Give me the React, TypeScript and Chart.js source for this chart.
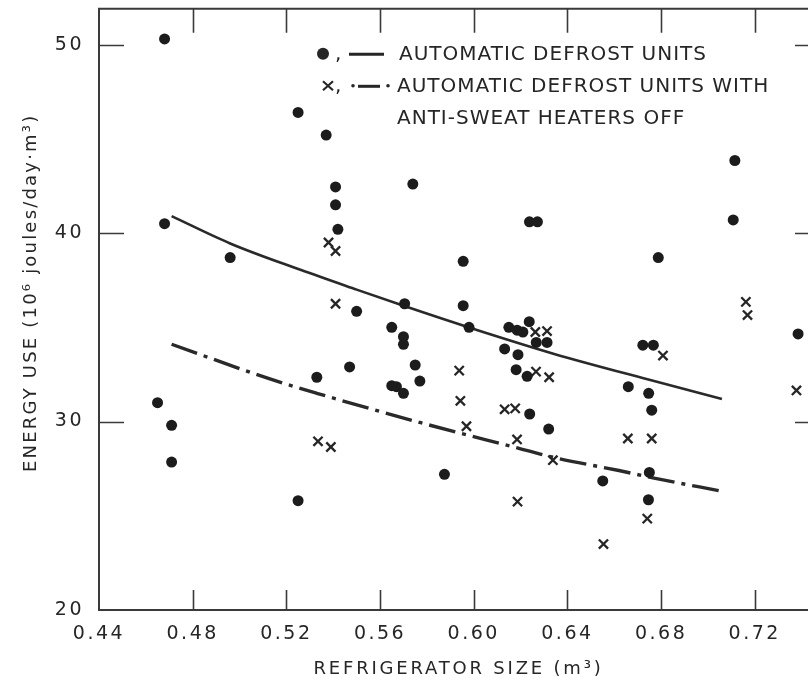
import { useEffect, useRef } from 'react';
import { Chart, registerables } from 'chart.js';

Chart.register(...registerables);

// ---- data ----
const X_TICKS = [0.44, 0.48, 0.52, 0.56, 0.6, 0.64, 0.68, 0.72];
const Y_TICKS = [20, 30, 40, 50];

// filled circles: automatic defrost units
const DOT_X = [0.468, 0.468, 0.496, 0.465, 0.471, 0.471, 0.525, 0.537, 0.525, 0.533, 0.541, 0.541, 0.542, 0.547, 0.55, 0.5705, 0.565, 0.57, 0.57, 0.574, 0.575, 0.577, 0.565, 0.567, 0.57, 0.5875, 0.5955, 0.5955, 0.598, 0.615, 0.6185, 0.621, 0.6237, 0.6267, 0.6313, 0.6132, 0.6189, 0.6181, 0.6228, 0.6239, 0.632, 0.6238, 0.6272, 0.6551, 0.666, 0.6722, 0.6767, 0.6747, 0.676, 0.675, 0.6746, 0.6788, 0.7115, 0.7108, 0.7385];
const DOT_Y = [50.3, 40.5, 38.7, 31.0, 29.8, 27.85, 46.4, 45.2, 25.8, 32.35, 42.45, 41.5, 40.2, 32.9, 35.85, 36.25, 35.0, 34.5, 34.1, 42.6, 33.0, 32.15, 31.9, 31.85, 31.5, 27.2, 38.5, 36.15, 35.0, 35.0, 34.85, 34.75, 35.3, 34.2, 34.2, 33.85, 33.55, 32.75, 32.4, 30.4, 29.6, 40.6, 40.6, 26.85, 31.85, 34.05, 34.05, 31.5, 30.6, 27.3, 25.85, 38.7, 43.85, 40.7, 34.65];

// crosses: anti-sweat heaters off
const CROSS_X = [0.538, 0.541, 0.541, 0.5335, 0.539, 0.5938, 0.5943, 0.5969, 0.6132, 0.6177, 0.6185, 0.6187, 0.6263, 0.6313, 0.6266, 0.6322, 0.6338, 0.6554, 0.6658, 0.676, 0.6741, 0.6808, 0.7162, 0.7169, 0.7378];
const CROSS_Y = [39.5, 39.05, 36.25, 28.95, 28.65, 32.7, 31.1, 29.75, 30.65, 30.7, 29.05, 25.75, 34.75, 34.8, 32.65, 32.35, 27.95, 23.5, 29.1, 29.1, 24.85, 33.5, 36.35, 35.65, 31.65];

// fitted curves
const FIT_X = [0.471, 0.496, 0.526, 0.55, 0.571, 0.599, 0.634, 0.677, 0.706];
const FIT_Y = [40.9, 39.45, 38.05, 37.0, 36.1, 34.95, 33.6, 32.15, 31.2];
const FIT_OFF_X = [0.471, 0.512, 0.533, 0.577, 0.617, 0.634, 0.662, 0.677, 0.706];
const FIT_OFF_Y = [34.1, 32.3, 31.5, 29.95, 28.65, 28.1, 27.4, 27.0, 26.3];

const LEGEND_LINES = ['AUTOMATIC DEFROST UNITS', 'AUTOMATIC DEFROST UNITS WITH', 'ANTI-SWEAT HEATERS OFF'];
const X_TITLE = 'REFRIGERATOR SIZE (m³)';
const Y_TITLE = 'ENERGY USE (10⁶ joules/day·m³)';

const INK = '#262626';
const FONT = '"DejaVu Sans", sans-serif';

const toPts = (xs: number[], ys: number[]) => xs.map((x, i) => ({ x, y: ys[i] }));

const decor = {
  id: 'decor',
  beforeDraw(chart: any) {
    chart.ctx.letterSpacing = '2.5px';
  },
  afterDraw(chart: any) {
    const { ctx, chartArea: a, scales } = chart;
    const sx = scales.x;
    const sy = scales.y;
    ctx.save();
    ctx.letterSpacing = '0px';
    ctx.strokeStyle = '#3a3a3a';
    ctx.lineWidth = 2;
    // frame
    ctx.beginPath();
    ctx.moveTo(a.right, a.top);
    ctx.lineTo(a.left, a.top);
    ctx.lineTo(a.left, a.bottom);
    ctx.lineTo(a.right, a.bottom);
    ctx.lineTo(a.right, a.top);
    ctx.stroke();
    // inward ticks
    ctx.lineWidth = 1.6;
    ctx.beginPath();
    Y_TICKS.forEach((v) => {
      if (v === Y_TICKS[0]) return;
      const py = Math.round(sy.getPixelForValue(v)) + 0.5;
      ctx.moveTo(a.left, py);
      ctx.lineTo(a.left + 25, py);
      ctx.moveTo(a.right, py);
      ctx.lineTo(a.right - 23, py);
    });
    X_TICKS.forEach((v) => {
      if (v === X_TICKS[0]) return;
      const px = Math.round(sx.getPixelForValue(v)) + 0.5;
      ctx.moveTo(px, a.bottom);
      ctx.lineTo(px, a.bottom - 20);
      ctx.moveTo(px, a.top);
      ctx.lineTo(px, a.top + 24);
    });
    ctx.stroke();

    ctx.fillStyle = INK;
    // x title
    ctx.font = `18px ${FONT}`;
    ctx.letterSpacing = '2.8px';
    ctx.textAlign = 'center';
    ctx.textBaseline = 'middle';
    ctx.fillText(X_TITLE, (a.left + a.right) / 2, a.bottom + 59);
    // y title
    ctx.save();
    ctx.font = `18px ${FONT}`;
    ctx.letterSpacing = '2.2px';
    ctx.translate(a.left - 68, a.top + 284);
    ctx.rotate(-Math.PI / 2);
    ctx.fillText(Y_TITLE, 0, 0);
    ctx.restore();

    // legend
    const lx = a.left + 224;
    const r1 = a.top + 45;
    const r2 = a.top + 77;
    const r3 = a.top + 109;
    ctx.beginPath();
    ctx.arc(lx, r1, 6, 0, Math.PI * 2);
    ctx.fill();
    ctx.font = `20px ${FONT}`;
    ctx.letterSpacing = '0px';
    ctx.textAlign = 'left';
    ctx.textBaseline = 'alphabetic';
    ctx.fillText(',', lx + 12, r1 + 6);
    ctx.lineWidth = 3;
    ctx.strokeStyle = INK;
    ctx.beginPath();
    ctx.moveTo(lx + 26, r1 + 0.5);
    ctx.lineTo(lx + 61, r1 + 0.5);
    ctx.stroke();
    // row 2 symbol
    const cx = lx + 5;
    ctx.lineWidth = 2.2;
    ctx.beginPath();
    ctx.moveTo(cx - 5, r2 - 4.5);
    ctx.lineTo(cx + 5, r2 + 4.5);
    ctx.moveTo(cx + 5, r2 - 4.5);
    ctx.lineTo(cx - 5, r2 + 4.5);
    ctx.stroke();
    ctx.fillText(',', lx + 12, r2 + 6);
    ctx.beginPath();
    ctx.arc(lx + 30, r2, 1.8, 0, Math.PI * 2);
    ctx.arc(lx + 65, r2, 1.8, 0, Math.PI * 2);
    ctx.fill();
    ctx.lineWidth = 3;
    ctx.beginPath();
    ctx.moveTo(lx + 35, r2 + 0.5);
    ctx.lineTo(lx + 57, r2 + 0.5);
    ctx.stroke();

    ctx.font = `20px ${FONT}`;
    ctx.letterSpacing = '1px';
    ctx.textBaseline = 'middle';
    ctx.fillText(LEGEND_LINES[0], lx + 76, r1 + 1);
    ctx.fillText(LEGEND_LINES[1], lx + 74, r2 + 1);
    ctx.fillText(LEGEND_LINES[2], lx + 74, r3 + 1);
    ctx.restore();
  },
};

export default function App() {
  const ref = useRef<HTMLCanvasElement | null>(null);
  useEffect(() => {
    if (!ref.current) return;
    Chart.defaults.font.family = FONT;
    const chart = new Chart(ref.current, {
      type: 'scatter',
      data: {
        datasets: [
          {
            label: 'Automatic defrost units',
            data: toPts(DOT_X, DOT_Y),
            pointStyle: 'circle',
            pointRadius: 5.5,
            backgroundColor: '#1c1c1c',
            borderColor: '#1c1c1c',
            borderWidth: 0,
          },
          {
            label: 'Anti-sweat heaters off',
            data: toPts(CROSS_X, CROSS_Y),
            pointStyle: 'crossRot',
            pointRadius: 6.5,
            borderColor: '#262626',
            backgroundColor: '#262626',
            borderWidth: 2.3,
          },
          {
            label: 'Fit: automatic defrost',
            data: toPts(FIT_X, FIT_Y),
            showLine: true,
            pointRadius: 0,
            borderColor: '#2a2a2a',
            borderWidth: 2.6,
            cubicInterpolationMode: 'monotone',
          } as any,
          {
            label: 'Fit: heaters off',
            data: toPts(FIT_OFF_X, FIT_OFF_Y),
            showLine: true,
            pointRadius: 0,
            borderColor: '#2a2a2a',
            borderWidth: 3.4,
            borderDash: [27, 7, 4, 7],
            cubicInterpolationMode: 'monotone',
          } as any,
        ],
      },
      options: {
        responsive: false,
        animation: false,
        devicePixelRatio: 1,
        layout: { padding: { top: 8, right: 12, left: 0, bottom: 0 } },
        plugins: { legend: { display: false }, tooltip: { enabled: false } },
        scales: {
          x: {
            type: 'linear',
            min: 0.44,
            max: 0.747,
            grid: { display: false, drawTicks: false },
            border: { display: false },
            afterBuildTicks: (s: any) => {
              s.ticks = X_TICKS.map((v) => ({ value: v }));
            },
            afterFit: (s: any) => {
              s.height = 71;
              s.paddingLeft = 0;
              s.paddingRight = 0;
            },
            ticks: {
              font: { size: 19, family: FONT },
              color: INK,
              padding: 13,
              maxRotation: 0,
              autoSkip: false,
              callback: (v: any) => Number(v).toFixed(2),
            },
          },
          y: {
            type: 'linear',
            min: 20,
            max: 51.9,
            grid: { display: false, drawTicks: false },
            border: { display: false },
            afterBuildTicks: (s: any) => {
              s.ticks = Y_TICKS.map((v) => ({ value: v }));
            },
            afterFit: (s: any) => {
              s.width = 99;
              s.paddingTop = 0;
              s.paddingBottom = 0;
            },
            ticks: {
              font: { size: 19, family: FONT },
              color: INK,
              padding: 15,
              autoSkip: false,
              callback: (v: any) => String(v),
            },
          },
        },
      },
      plugins: [decor],
    });
    return () => chart.destroy();
  }, []);

  return (
    <div style={{ position: 'absolute', left: 0, top: 0, width: 808, height: 681, overflow: 'hidden', background: '#fff' }}>
      <canvas ref={ref} width={830} height={681} style={{ width: 830, height: 681, display: 'block' }} />
    </div>
  );
}
